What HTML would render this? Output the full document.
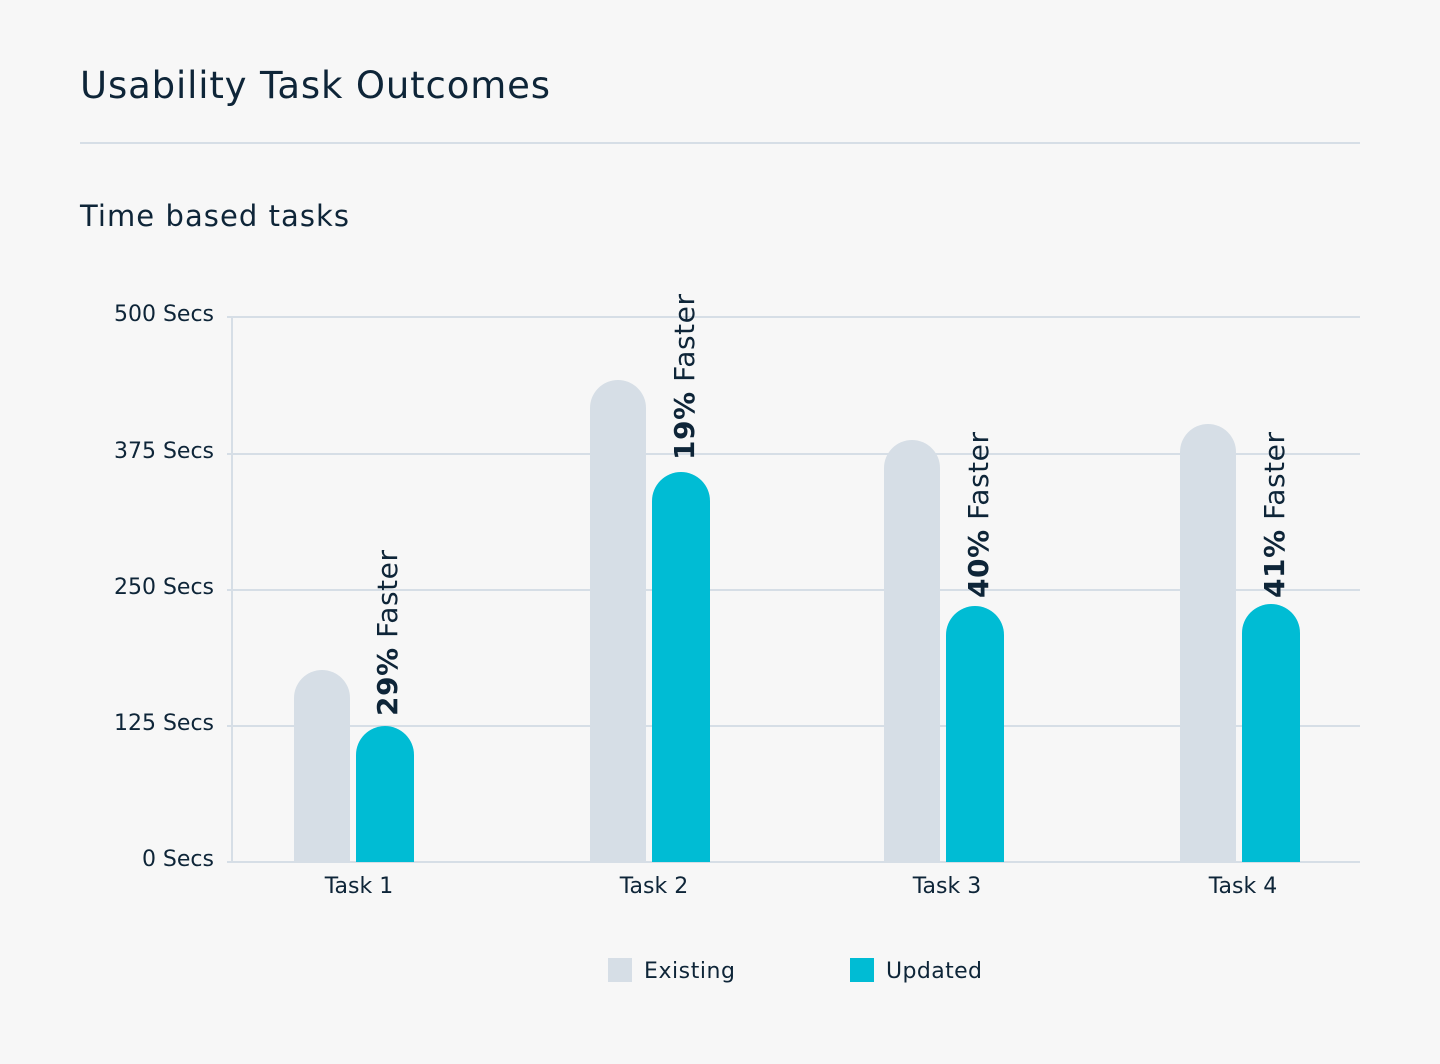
<!DOCTYPE html>
<html><head><meta charset="utf-8"><style>
body{margin:0;background:#f7f7f7;}
svg{display:block;font-family:"DejaVu Sans","Liberation Sans",sans-serif;}
</style></head><body>
<svg width="1440" height="1064" viewBox="0 0 1440 1064">
<rect width="1440" height="1064" fill="#f7f7f7"/>
<text x="80" y="98" font-size="37" fill="#0e2538" textLength="470">Usability Task Outcomes</text>
<rect x="80" y="142" width="1280" height="2" fill="#d6dee6"/>
<text x="80" y="226" font-size="29" fill="#0e2538" textLength="269">Time based tasks</text>
<g fill="#d6dee6">
<rect x="227" y="316" width="1133" height="2"/>
<rect x="227" y="453" width="1133" height="2"/>
<rect x="227" y="589" width="1133" height="2"/>
<rect x="227" y="725" width="1133" height="2"/>
<rect x="227" y="861" width="1133" height="2"/>
<rect x="231" y="316" width="2" height="547"/>
</g>
<g font-size="22" fill="#0e2538" text-anchor="end">
<text x="214" y="321">500 Secs</text>
<text x="214" y="458">375 Secs</text>
<text x="214" y="594">250 Secs</text>
<text x="214" y="730">125 Secs</text>
<text x="214" y="866">0 Secs</text>
</g>
<g font-size="22" fill="#0e2538" text-anchor="middle">
<text x="359" y="893">Task 1</text>
<text x="654" y="893">Task 2</text>
<text x="947" y="893">Task 3</text>
<text x="1243" y="893">Task 4</text>
</g>
<g fill="#d6dee6">
<path d="M294 862V698a28 28 0 0 1 56 0V862Z"/>
<path d="M590 862V408a28 28 0 0 1 56 0V862Z"/>
<path d="M884 862V468a28 28 0 0 1 56 0V862Z"/>
<path d="M1180 862V452a28 28 0 0 1 56 0V862Z"/>
</g>
<g fill="#00bcd4">
<path d="M356 862V755a29 29 0 0 1 58 0V862Z"/>
<path d="M652 862V501a29 29 0 0 1 58 0V862Z"/>
<path d="M946 862V635a29 29 0 0 1 58 0V862Z"/>
<path d="M1242 862V633a29 29 0 0 1 58 0V862Z"/>
</g>
<g font-size="28" fill="#0e2538">
<text transform="translate(397,716) rotate(-90)" textLength="166"><tspan font-weight="bold">29%</tspan> Faster</text>
<text transform="translate(694,460) rotate(-90)" textLength="166"><tspan font-weight="bold">19%</tspan> Faster</text>
<text transform="translate(988,598) rotate(-90)" textLength="166"><tspan font-weight="bold">40%</tspan> Faster</text>
<text transform="translate(1284,598) rotate(-90)" textLength="166"><tspan font-weight="bold">41%</tspan> Faster</text>
</g>
<rect x="608" y="958" width="24" height="24" fill="#d6dee6"/>
<text x="644" y="978" font-size="22" fill="#0e2538" textLength="91">Existing</text>
<rect x="850" y="958" width="24" height="24" fill="#00bcd4"/>
<text x="886" y="978" font-size="22" fill="#0e2538" textLength="96">Updated</text>
</svg>
</body></html>
